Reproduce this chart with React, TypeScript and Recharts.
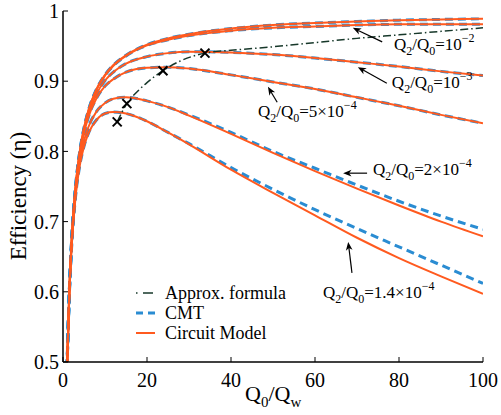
import { ComposedChart, Line, Scatter, XAxis, YAxis, ReferenceLine, ReferenceDot } from 'recharts'

// Q0/Qw sample points shared by all efficiency curves
const qRatio = [0.9, 1, 1.5, 2, 3, 4, 5, 6, 8, 10, 12, 15, 20, 25, 30, 40, 50, 60, 70, 80, 90, 100]

// circuit model curves (top to bottom)
const circuitA = [0.474, 0.5, 0.6, 0.667, 0.75, 0.8, 0.833, 0.857, 0.889, 0.909, 0.923, 0.937, 0.952, 0.961, 0.967, 0.975, 0.98, 0.983, 0.985, 0.987, 0.988, 0.989]
const circuitB = [0.474, 0.5, 0.6, 0.667, 0.75, 0.8, 0.833, 0.857, 0.888, 0.908, 0.922, 0.936, 0.951, 0.959, 0.965, 0.972, 0.976, 0.978, 0.98, 0.981, 0.981, 0.981]
const circuitC = [0.473, 0.4995, 0.599, 0.666, 0.748, 0.797, 0.83, 0.852, 0.882, 0.901, 0.913, 0.925, 0.935, 0.94, 0.942, 0.941, 0.938, 0.933, 0.927, 0.921, 0.914, 0.908]
const circuitD = [0.473, 0.499, 0.598, 0.664, 0.746, 0.794, 0.826, 0.848, 0.876, 0.893, 0.903, 0.913, 0.919, 0.92, 0.918, 0.909, 0.899, 0.889, 0.877, 0.865, 0.852, 0.84]
const circuitE = [0.472, 0.498, 0.596, 0.661, 0.74, 0.786, 0.815, 0.834, 0.857, 0.869, 0.875, 0.877, 0.872, 0.863, 0.851, 0.825, 0.798, 0.772, 0.747, 0.723, 0.7, 0.679]
const circuitF = [0.471, 0.497, 0.594, 0.658, 0.736, 0.78, 0.807, 0.825, 0.845, 0.854, 0.856, 0.854, 0.843, 0.827, 0.81, 0.774, 0.741, 0.709, 0.677, 0.648, 0.622, 0.597]

// CMT: same as circuit for the top four, drifts above for the two lowest
const cmtA = circuitA
const cmtB = circuitB
const cmtC = circuitC
const cmtD = circuitD
const cmtE = [0.472, 0.498, 0.596, 0.661, 0.74, 0.786, 0.815, 0.834, 0.857, 0.869, 0.875, 0.877, 0.872, 0.863, 0.852, 0.827, 0.8, 0.776, 0.752, 0.729, 0.708, 0.689]
const cmtF = [0.471, 0.497, 0.594, 0.658, 0.736, 0.78, 0.807, 0.825, 0.845, 0.854, 0.856, 0.854, 0.843, 0.827, 0.811, 0.777, 0.746, 0.717, 0.69, 0.664, 0.638, 0.612]

// approx. formula (optimum locus)
const approxQ = [12.9, 15.2, 18, 20, 23.8, 28, 33.8, 40, 50, 60, 70, 80, 90, 100]
const approxEta = [0.842, 0.868, 0.887, 0.898, 0.915, 0.929, 0.94, 0.944, 0.949, 0.955, 0.961, 0.966, 0.971, 0.976]

const markerQ = [12.9, 15.2, 23.8, 33.8]
const markerEta = [0.842, 0.868, 0.915, 0.94]

const xTicks = [0, 20, 40, 60, 80, 100]
const xTopTicks = [20, 40, 60, 80]
const yTicks = [0.5, 0.6, 0.7, 0.8, 0.9, 1]
const yRightTicks = [0.6, 0.7, 0.8, 0.9]

// annotations: text anchor (data units) and arrow from -> to
const notes = [
  { q: 78.8, eta: 0.944, mant: '', exp: '2', from: [76.0, 0.956], to: [69.0, 0.976] },
  { q: 78.3, eta: 0.89, mant: '', exp: '3', from: [77.1, 0.897], to: [70.2, 0.92] },
  { q: 46.4, eta: 0.849, mant: '5×', exp: '4', from: [51.0, 0.87], to: [48.8, 0.892] },
  { q: 73.8, eta: 0.766, mant: '2×', exp: '4', from: [72.4, 0.769], to: [66.7, 0.769] },
  { q: 61.9, eta: 0.591, mant: '1.4×', exp: '4', from: [68.8, 0.627], to: [67.9, 0.671] },
]

const FONT = "'Liberation Serif', 'Times New Roman', Times, serif"
const serif = { fontFamily: FONT }
const ORANGE = '#ff5a1f'
const BLUE = '#2a8cd2'
const GREEN = '#17382a'
const TICK_IN = 5

const rows = qRatio.map((q, i) => ({
  q,
  cA: circuitA[i], cB: circuitB[i], cC: circuitC[i], cD: circuitD[i], cE: circuitE[i], cF: circuitF[i],
  mA: cmtA[i], mB: cmtB[i], mC: cmtC[i], mD: cmtD[i], mE: cmtE[i], mF: cmtF[i],
}))
const approx = approxQ.map((q, i) => ({ q, eta: approxEta[i] }))
const markers = markerQ.map((q, i) => ({ q, eta: markerEta[i] }))

const fmtY = (v: number) => (v === 1 ? '1' : v.toFixed(1))

function BottomTick(p: any) {
  const { x, y, payload } = p
  return (
    <g>
      <line x1={x} x2={x} y1={y - 11} y2={y - 11 - TICK_IN} stroke="#000" strokeWidth={1} />
      <text x={x} y={y} dy="0.71em" textAnchor="middle" style={serif} fontSize={20} fill="#000">
        {payload.value}
      </text>
    </g>
  )
}

function TopTick(p: any) {
  const { x, y } = p
  return <line x1={x} x2={x} y1={y} y2={y + TICK_IN} stroke="#000" strokeWidth={1} />
}

function LeftTick(p: any) {
  const { x, y, payload } = p
  return (
    <g>
      <line x1={x + 4} x2={x + 4 + TICK_IN} y1={y} y2={y} stroke="#000" strokeWidth={1} />
      <text x={x} y={y} dy="0.355em" textAnchor="end" style={serif} fontSize={20} fill="#000">
        {fmtY(payload.value)}
      </text>
    </g>
  )
}

function RightTick(p: any) {
  const { x, y } = p
  return <line x1={x} x2={x - TICK_IN} y1={y} y2={y} stroke="#000" strokeWidth={1} />
}

function Cross(p: any) {
  const { cx, cy } = p
  const s = 4.5
  return (
    <g stroke="#000" strokeWidth={2}>
      <line x1={cx - s} y1={cy - s} x2={cx + s} y2={cy + s} />
      <line x1={cx - s} y1={cy + s} x2={cx + s} y2={cy - s} />
    </g>
  )
}

function Arrow(p: any) {
  const { x1, y1, x2, y2 } = p
  const a = Math.atan2(y2 - y1, x2 - x1)
  const len = 9
  const spread = 0.38
  const back = 6
  const l = [x2 - len * Math.cos(a - spread), y2 - len * Math.sin(a - spread)]
  const r = [x2 - len * Math.cos(a + spread), y2 - len * Math.sin(a + spread)]
  const m = [x2 - back * Math.cos(a), y2 - back * Math.sin(a)]
  return (
    <g>
      <line x1={x1} y1={y1} x2={m[0]} y2={m[1]} stroke="#000" strokeWidth={1.2} />
      <polygon points={`${x2},${y2} ${l[0]},${l[1]} ${m[0]},${m[1]} ${r[0]},${r[1]}`} fill="#000" />
    </g>
  )
}

function RatioLabel({ cx, cy, mant, exp }: any) {
  return (
    <text x={cx} y={cy} style={serif} fontSize={17} fill="#000">
      Q<tspan dy={5} fontSize={12}>2</tspan>
      <tspan dy={-5}>/Q</tspan>
      <tspan dy={5} fontSize={12}>0</tspan>
      <tspan dy={-5}>={mant}10</tspan>
      <tspan dy={-8} fontSize={12}>−{exp}</tspan>
    </text>
  )
}

const curveKeys = ['A', 'B', 'C', 'D', 'E', 'F']

export default function App() {
  return (
    <div style={{ position: 'absolute', left: 0, top: 0, width: 501, height: 415, background: '#fff', fontFamily: FONT }}>
      <ComposedChart width={501} height={415} data={rows} margin={{ top: 11, right: 18, bottom: 0, left: 18 }}>
        <XAxis
          xAxisId="b"
          dataKey="q"
          type="number"
          domain={[0, 100]}
          ticks={xTicks}
          allowDataOverflow
          height={53}
          tickSize={0}
          tickMargin={11}
          tickLine={false}
          axisLine={{ stroke: '#000', strokeWidth: 1.5 }}
          tick={<BottomTick />}
        />
        <XAxis
          xAxisId="t"
          dataKey="q"
          type="number"
          orientation="top"
          domain={[0, 100]}
          ticks={xTopTicks}
          height={0}
          tickSize={0}
          tickMargin={0}
          tickLine={false}
          axisLine={{ stroke: '#000', strokeWidth: 1.5 }}
          tick={<TopTick />}
        />
        <YAxis
          yAxisId="l"
          type="number"
          domain={[0.5, 1]}
          ticks={yTicks}
          allowDataOverflow
          width={45}
          tickSize={0}
          tickMargin={4}
          tickLine={false}
          axisLine={{ stroke: '#000', strokeWidth: 1.5 }}
          tick={<LeftTick />}
        />
        <YAxis
          yAxisId="r"
          orientation="right"
          type="number"
          domain={[0.5, 1]}
          ticks={yRightTicks}
          width={0}
          tickSize={0}
          tickMargin={0}
          tickLine={false}
          axisLine={{ stroke: '#000', strokeWidth: 1.5 }}
          tick={<RightTick />}
        />

        {curveKeys.map((k) => (
          <Line
            key={'m' + k}
            xAxisId="b"
            yAxisId="l"
            type="monotone"
            dataKey={'m' + k}
            stroke={BLUE}
            strokeWidth={3}
            strokeDasharray="8 5"
            dot={false}
            isAnimationActive={false}
          />
        ))}
        {curveKeys.map((k) => (
          <Line
            key={'c' + k}
            xAxisId="b"
            yAxisId="l"
            type="monotone"
            dataKey={'c' + k}
            stroke={ORANGE}
            strokeWidth={2}
            dot={false}
            isAnimationActive={false}
          />
        ))}
        <Line
          xAxisId="b"
          yAxisId="l"
          data={approx}
          type="monotone"
          dataKey="eta"
          stroke={GREEN}
          strokeWidth={1.5}
          strokeDasharray="8 3 1.5 3"
          dot={false}
          isAnimationActive={false}
        />
        <Scatter
          xAxisId="b"
          yAxisId="l"
          data={markers}
          dataKey="eta"
          shape={<Cross />}
          isAnimationActive={false}
        />

        {notes.map((n, i) => (
          <ReferenceLine
            key={'a' + i}
            xAxisId="b"
            yAxisId="l"
            segment={[{ x: n.from[0], y: n.from[1] }, { x: n.to[0], y: n.to[1] }]}
            shape={(p: any) => <Arrow {...p} />}
          />
        ))}
        {notes.map((n, i) => (
          <ReferenceDot
            key={'t' + i}
            xAxisId="b"
            yAxisId="l"
            x={n.q}
            y={n.eta}
            r={0}
            shape={(p: any) => <RatioLabel cx={p.cx} cy={p.cy} mant={n.mant} exp={n.exp} />}
          />
        ))}
      </ComposedChart>

      {/* axis titles and legend */}
      <svg width={501} height={415} style={{ position: 'absolute', left: 0, top: 0, pointerEvents: 'none' }}>
        <text
          transform="translate(26,196) rotate(-90)"
          textAnchor="middle"
          style={serif}
          fontSize={23}
          fill="#000"
        >
          Efficiency (η)
        </text>
        <text x={245} y={401} style={serif} fontSize={22} fill="#000">
          Q<tspan dy={6} fontSize={15}>0</tspan>
          <tspan dy={-6}>/Q</tspan>
          <tspan dy={6} fontSize={15}>w</tspan>
        </text>

        <line x1={136} x2={156} y1={293} y2={293} stroke={GREEN} strokeWidth={1.5} strokeDasharray="1.5 5.5 10 10" />
        <text x={165} y={299} style={serif} fontSize={18} fill="#000">Approx. formula</text>
        <line x1={136} x2={156} y1={313} y2={313} stroke={BLUE} strokeWidth={3} strokeDasharray="7 5" />
        <text x={165} y={319} style={serif} fontSize={18} fill="#000">CMT</text>
        <line x1={136} x2={155} y1={333} y2={333} stroke={ORANGE} strokeWidth={2} />
        <text x={165} y={339} style={serif} fontSize={18} fill="#000">Circuit Model</text>
      </svg>
    </div>
  )
}
